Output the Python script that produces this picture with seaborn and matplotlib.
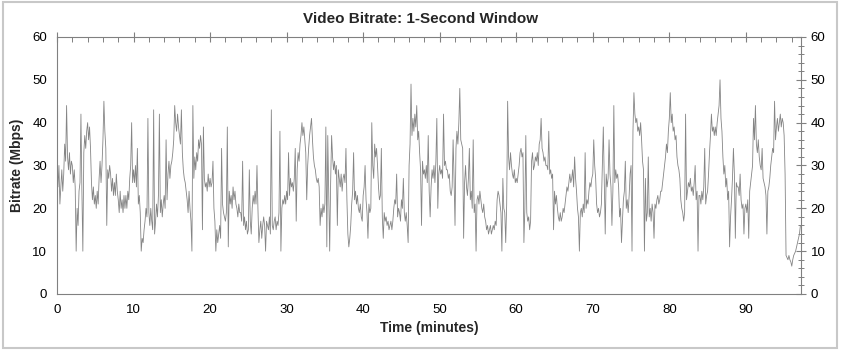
import numpy as np
import pandas as pd
import matplotlib
matplotlib.use("Agg")
import matplotlib.pyplot as plt
from matplotlib.ticker import MultipleLocator
from matplotlib.patches import Rectangle
import seaborn as sns

# Bitrate (Mbps), read every 0.125 minute (8 values per minute row)
bitrate_mbps = [
    29, 25, 30, 21, 25, 29, 24, 28,   # 0
    35, 31, 44, 32, 29, 33, 28, 31,   # 1
    30, 26, 29, 25, 10, 20, 16, 24,   # 2
    26, 42, 24, 10, 33, 37, 34, 38,   # 3
    40, 36, 39, 34, 26, 22, 25, 21,   # 4
    23, 20, 24, 21, 27, 31, 26, 30,   # 5
    36, 45, 38, 34, 16, 29, 27, 30,   # 6
    28, 24, 27, 23, 26, 23, 28, 24,   # 7
    22, 19, 24, 20, 22, 19, 23, 20,   # 8
    23, 20, 24, 22, 27, 30, 40, 26,   # 9
    29, 26, 30, 25, 34, 21, 23, 19,   # 10
    10, 13, 12, 15, 17, 20, 18, 41,   # 11
    19, 16, 20, 17, 15, 43, 14, 17,   # 12
    21, 18, 23, 42, 19, 22, 18, 21,   # 13
    23, 20, 36, 22, 28, 31, 27, 30,   # 14
    31, 33, 36, 44, 40, 38, 42, 39,   # 15
    37, 35, 43, 33, 29, 27, 26, 24,   # 16
    22, 19, 24, 20, 17, 10, 44, 27,   # 17
    32, 29, 33, 31, 36, 34, 37, 35,   # 18
    15, 39, 27, 25, 26, 24, 28, 25,   # 19
    27, 25, 26, 31, 20, 17, 10, 15,   # 20
    12, 14, 16, 13, 34, 21, 19, 18,   # 21
    17, 19, 39, 11, 24, 21, 23, 20,   # 22
    25, 22, 24, 21, 20, 18, 21, 19,   # 23
    19, 17, 31, 16, 18, 15, 17, 14,   # 24
    15, 29, 17, 14, 20, 23, 21, 24,   # 25
    21, 30, 20, 12, 15, 17, 13, 16,   # 26
    18, 16, 10, 17, 16, 15, 18, 14,   # 27
    43, 16, 15, 17, 18, 15, 17, 16,   # 28
    19, 38, 10, 20, 22, 21, 23, 21,   # 29
    24, 22, 33, 23, 27, 25, 26, 24,   # 30
    27, 34, 17, 29, 33, 31, 35, 37,   # 31
    40, 37, 39, 36, 33, 22, 30, 34,   # 32
    37, 39, 41, 36, 32, 30, 29, 27,   # 33
    26, 27, 25, 16, 20, 18, 21, 19,   # 34
    21, 39, 11, 37, 24, 10, 26, 37,   # 35
    32, 29, 31, 28, 30, 16, 29, 27,   # 36
    25, 28, 24, 27, 28, 26, 34, 22,   # 37
    14, 11, 13, 16, 21, 24, 33, 22,   # 38
    24, 21, 23, 20, 19, 21, 18, 17,   # 39
    23, 25, 30, 22, 19, 13, 21, 19,   # 40
    20, 40, 30, 27, 35, 32, 34, 30,   # 41
    25, 22, 23, 34, 18, 13, 19, 17,   # 42
    18, 16, 17, 15, 16, 17, 15, 17,   # 43
    20, 22, 21, 28, 18, 20, 19, 17,   # 44
    22, 20, 27, 19, 17, 19, 16, 12,   # 45
    30, 35, 49, 37, 41, 38, 42, 39,   # 46
    44, 36, 38, 33, 29, 16, 31, 28,   # 47
    29, 27, 30, 26, 37, 24, 18, 25,   # 48
    29, 27, 30, 26, 31, 41, 20, 28,   # 49
    30, 28, 29, 27, 42, 30, 31, 29,   # 50
    29, 27, 28, 24, 23, 25, 36, 27,   # 51
    16, 34, 38, 35, 40, 48, 36, 35,   # 52
    34, 13, 26, 30, 25, 23, 27, 34,   # 53
    22, 24, 20, 36, 19, 21, 10, 22,   # 54
    23, 21, 24, 22, 20, 19, 21, 18,   # 55
    17, 15, 16, 14, 15, 16, 14, 15,   # 56
    16, 15, 17, 16, 22, 24, 23, 21,   # 57
    19, 10, 27, 20, 19, 12, 21, 45,   # 58
    32, 29, 33, 30, 28, 27, 29, 26,   # 59
    27, 26, 28, 30, 33, 34, 32, 33,   # 60
    12, 20, 37, 19, 17, 18, 15, 17,   # 61
    31, 33, 29, 30, 32, 31, 33, 30,   # 62
    35, 36, 41, 34, 33, 31, 32, 30,   # 63
    30, 29, 38, 28, 29, 27, 28, 15,   # 64
    24, 21, 23, 20, 18, 17, 19, 17,   # 65
    18, 20, 19, 21, 23, 25, 24, 26,   # 66
    28, 26, 27, 29, 25, 32, 27, 24,   # 67
    20, 18, 10, 19, 20, 18, 21, 19,   # 68
    33, 20, 22, 21, 24, 26, 25, 27,   # 69
    28, 36, 30, 27, 21, 19, 20, 18,   # 70
    19, 21, 30, 39, 26, 14, 28, 25,   # 71
    27, 36, 28, 25, 16, 24, 44, 26,   # 72
    29, 27, 28, 25, 18, 20, 12, 17,   # 73
    22, 24, 31, 20, 22, 19, 23, 28,   # 74
    30, 10, 38, 47, 42, 40, 41, 38,   # 75
    39, 37, 40, 36, 31, 29, 10, 27,   # 76
    17, 19, 32, 18, 20, 17, 21, 19,   # 77
    13, 21, 20, 22, 23, 21, 22, 24,   # 78
    24, 26, 28, 30, 32, 35, 33, 38,   # 79
    41, 47, 40, 42, 38, 39, 36, 37,   # 80
    32, 30, 29, 27, 22, 20, 19, 17,   # 81
    19, 42, 22, 24, 26, 25, 27, 24,   # 82
    25, 23, 26, 30, 22, 24, 10, 23,   # 83
    23, 21, 24, 22, 25, 34, 21, 23,   # 84
    24, 28, 33, 37, 42, 38, 39, 37,   # 85
    39, 37, 40, 42, 44, 50, 41, 38,   # 86
    32, 28, 30, 25, 27, 22, 24, 11,   # 87
    18, 22, 27, 34, 28, 13, 26, 25,   # 88
    25, 23, 28, 22, 20, 21, 14, 20,   # 89
    21, 19, 22, 13, 24, 26, 28, 30,   # 90
    41, 36, 44, 35, 33, 36, 32, 30,   # 91
    29, 34, 27, 26, 25, 23, 14, 24,   # 92
    25, 27, 30, 32, 34, 33, 45, 36,   # 93
    39, 41, 38, 40, 42, 39, 41, 40,   # 94
    37, 28, 9, 8.5, 8, 9, 8, 7.5,     # 95
    6.5, 8, 9, 9.5, 10, 11, 12, 13,   # 96
    14, 16,                           # 97
]
sample_step_min = 0.125

title = "Video Bitrate: 1-Second Window"
x_label = "Time (minutes)"
y_label = "Bitrate (Mbps)"
y_ticks = [0, 10, 20, 30, 40, 50, 60]
x_ticks = [0, 10, 20, 30, 40, 50, 60, 70, 80, 90]

df = pd.DataFrame({
    "time": np.arange(len(bitrate_mbps)) * sample_step_min,
    "bitrate": bitrate_mbps,
})

sns.set_style("white")
plt.rcParams["font.family"] = ["Liberation Sans", "DejaVu Sans"]

fig = plt.figure(figsize=(8.41, 3.51), dpi=100)
fig.patch.set_facecolor("white")
ax = fig.add_axes([0.0678, 0.1624, 0.8846, 0.7322])

sns.lineplot(data=df, x="time", y="bitrate", ax=ax, color="#858585",
             linewidth=0.6, estimator=None)

ax.set_xlim(0, 97.2)
ax.set_ylim(0, 60)
ax.set_xticks(x_ticks)
ax.set_yticks(y_ticks)
ax.xaxis.set_minor_locator(MultipleLocator(2))
ax.yaxis.set_minor_locator(MultipleLocator(2))
ax.tick_params(axis="both", which="major", direction="inout", length=7,
               width=0.8, color="#808080", labelsize=9.5, labelcolor="black",
               top=True, right=True, labelright=True)
ax.tick_params(axis="x", which="minor", direction="in", length=3.5,
               width=0.7, color="#808080", top=True)
ax.tick_params(axis="y", which="minor", direction="inout", length=5,
               width=0.7, color="#808080", right=True)
for s in ax.spines.values():
    s.set_color("#808080")
    s.set_linewidth(0.8)

ax.set_xlabel(x_label, fontsize=10, fontweight="bold", labelpad=4)
ax.set_ylabel(y_label, fontsize=10, fontweight="bold", labelpad=6)
fig.text(0.5, 0.947, title, ha="center", va="center", fontsize=11,
         fontweight="bold")

fig.patches.append(Rectangle((0.004, 0.008), 0.991, 0.985,
                             transform=fig.transFigure, fill=False,
                             edgecolor="#c8c8c8", linewidth=1.5))

fig.savefig("out.png", dpi=100)
